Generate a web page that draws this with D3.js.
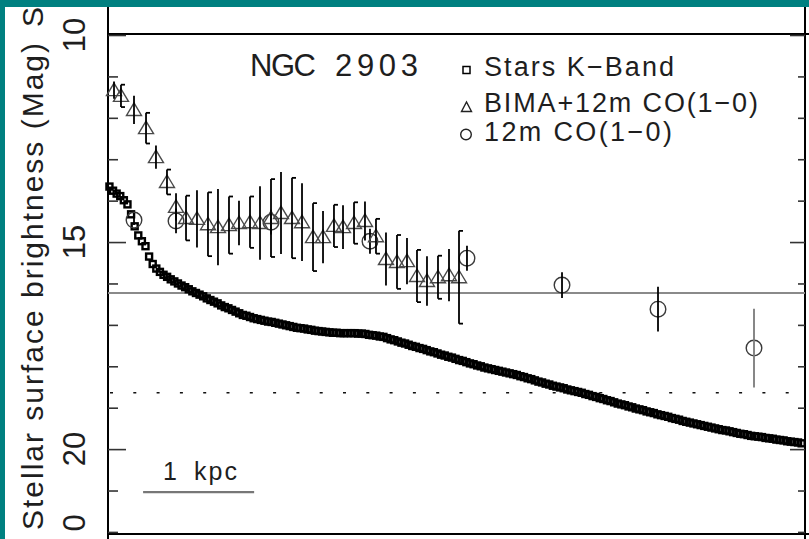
<!DOCTYPE html>
<html><head><meta charset="utf-8">
<script src="https://cdn.jsdelivr.net/npm/d3@7"></script>
<style>
html,body{margin:0;padding:0;background:#fff;}
svg{display:block;}
text{font-family:"Liberation Sans",Arial,sans-serif;fill:#1e1e1e;}
</style></head><body>
<svg id="c" width="809" height="539"></svg>
<script>
// ---- data (radius in arcsec, surface brightness in mag) ----
const starR = [
0.30,1.05,1.80,2.55,3.30,4.05,4.80,5.55,6.30,7.05,
7.80,8.55,9.30,10.05,10.80,11.55,12.30,13.05,13.80,14.55,
15.30,16.05,16.80,17.55,18.30,19.05,19.80,20.55,21.30,22.05,
22.80,23.55,24.30,25.05,25.80,26.55,27.30,28.05,28.80,29.55,
30.30,31.05,31.80,32.55,33.30,34.05,34.80,35.55,36.30,37.05,
37.80,38.55,39.30,40.05,40.80,41.55,42.30,43.05,43.80,44.55,
45.30,46.05,46.80,47.55,48.30,49.05,49.80,50.55,51.30,52.05,
52.80,53.55,54.30,55.05,55.80,56.55,57.30,58.05,58.80,59.55,
60.30,61.05,61.80,62.55,63.30,64.05,64.80,65.55,66.30,67.05,
67.80,68.55,69.30,70.05,70.80,71.55,72.30,73.05,73.80,74.55,
75.30,76.05,76.80,77.55,78.30,79.05,79.80,80.55,81.30,82.05,
82.80,83.55,84.30,85.05,85.80,86.55,87.30,88.05,88.80,89.55,
90.30,91.05,91.80,92.55,93.30,94.05,94.80,95.55,96.30,97.05,
97.80,98.55,99.30,100.05,100.80,101.55,102.30,103.05,103.80,104.55,
105.30,106.05,106.80,107.55,108.30,109.05,109.80,110.55,111.30,112.05,
112.80,113.55,114.30,115.05,115.80,116.55,117.30,118.05,118.80,119.55,
120.30,121.05,121.80,122.55,123.30,124.05,124.80,125.55,126.30,127.05,
127.80,128.55,129.30,130.05,130.80,131.55,132.30,133.05,133.80,134.55,
135.30,136.05,136.80,137.55,138.30,139.05,139.80,140.55,141.30,142.05,
142.80,143.55,144.30];
const starMag = [
13.66,13.76,13.83,13.89,13.99,14.09,14.33,14.62,14.84,14.98,
15.10,15.35,15.53,15.64,15.72,15.79,15.84,15.90,15.95,16.00,
16.05,16.09,16.14,16.19,16.23,16.27,16.31,16.36,16.40,16.44,
16.48,16.53,16.57,16.60,16.64,16.68,16.72,16.76,16.78,16.81,
16.84,16.86,16.88,16.90,16.92,16.93,16.95,16.97,16.99,17.01,
17.03,17.05,17.07,17.08,17.09,17.11,17.12,17.14,17.15,17.16,
17.17,17.18,17.19,17.19,17.20,17.20,17.20,17.20,17.20,17.21,
17.21,17.22,17.24,17.25,17.26,17.28,17.29,17.32,17.35,17.37,
17.40,17.43,17.45,17.48,17.51,17.53,17.56,17.58,17.61,17.64,
17.66,17.69,17.72,17.74,17.77,17.79,17.82,17.85,17.87,17.90,
17.93,17.95,17.98,18.00,18.03,18.05,18.07,18.09,18.11,18.13,
18.15,18.17,18.19,18.21,18.24,18.26,18.29,18.31,18.34,18.37,
18.39,18.42,18.44,18.47,18.49,18.51,18.53,18.56,18.58,18.60,
18.62,18.64,18.67,18.69,18.72,18.74,18.77,18.79,18.82,18.84,
18.87,18.90,18.92,18.94,18.97,18.99,19.02,19.04,19.06,19.09,
19.11,19.13,19.16,19.18,19.20,19.22,19.25,19.27,19.29,19.32,
19.34,19.36,19.38,19.40,19.42,19.44,19.46,19.48,19.50,19.52,
19.54,19.55,19.57,19.59,19.61,19.63,19.64,19.66,19.68,19.69,
19.70,19.71,19.73,19.74,19.75,19.77,19.78,19.79,19.81,19.82,
19.83,19.84,19.86];

const bimaR   = [1.25,2.70,5.41,7.91,9.98,12.27,14.15,16.23,18.51,20.80,22.88,25.17,27.25,29.54,31.62,33.91,35.99,38.28,40.36,42.65,44.73,47.01,48.89,51.18,53.46,55.75,57.83,60.12,62.20,64.28,66.36,68.65,70.94,73.02];
const bimaMag = [11.33,11.47,11.81,12.25,12.95,13.55,14.15,14.42,14.44,14.57,14.64,14.59,14.54,14.52,14.54,14.42,14.30,14.42,14.52,14.88,14.88,14.61,14.64,14.54,14.49,14.86,15.41,15.48,15.46,15.82,15.94,15.85,15.80,15.85];
const bimaErr = [0.21,0.27,0.34,0.37,0.28,0.30,0.33,0.54,0.69,0.77,0.92,0.69,0.54,0.62,0.89,0.94,0.99,0.97,0.94,0.82,0.63,0.51,0.53,0.50,0.47,0.42,0.64,0.65,0.56,0.63,0.60,0.52,0.63,1.12];

const co12R   = [5.41,14.15,33.91,54.50,74.68,94.45,114.42,134.39];
const co12Mag = [14.47,14.49,14.52,14.98,15.39,16.04,16.62,17.56];
const co12Err = [0.12,0.30,0.30,0.30,0.30,0.31,0.54,0.95];

const yTickValues  = [10,15,20];
const yTickLabels  = ["10","15","20"];
const yMinorValues = [11,12,13,14,16,17,18,19,21,22];
const cutLabel = {text:"0", value:21.78};
const refSolidMag = 16.23;
const refDottedMag = 18.64;
const scaleBarR = [7.3,30.4];
const scaleBarMag = 21.04;
const scaleBarLabel = "1 kpc";
const titleText = "NGC 2903";
const legendLabels = ["Stars K\u2212Band","BIMA+12m CO(1\u22120)","12m CO(1\u22120)"];
const yTitle = "Stellar surface brightness (Mag)";
const yTitleCut = "S";

// ---- drawing ----
const W = 809, H = 539;
const svg = d3.select("#c");
const x = d3.scaleLinear().domain([0,145]).range([108,805]);
const y = d3.scaleLinear().domain([10,22.05]).range([35,534]);

// frame lines
const frame = svg.append("g").attr("stroke","#000").attr("stroke-width",2);
frame.append("line").attr("x1",x(0)).attr("x2",x(0)).attr("y1",0).attr("y2",H);
frame.append("line").attr("x1",x(145)).attr("x2",x(145)).attr("y1",0).attr("y2",H);
frame.append("line").attr("x1",x(0)).attr("x2",W).attr("y1",y(10)-1).attr("y2",y(10)-1);
frame.append("line").attr("x1",x(0)).attr("x2",W).attr("y1",y.range()[1]).attr("y2",y.range()[1]);

// ticks via d3 axes (inward)
function tickAxis(axis, tx){
  const g = svg.append("g").attr("transform",`translate(${tx},0)`).call(axis);
  g.select(".domain").remove();
  g.selectAll(".tick line").attr("stroke","#333").attr("stroke-width",1.6);
  g.selectAll(".tick text").remove();
  return g;
}
tickAxis(d3.axisLeft(y).tickValues(yTickValues).tickSize(-18).tickFormat(""), x(0));
tickAxis(d3.axisLeft(y).tickValues(yMinorValues).tickSize(-10).tickFormat(""), x(0));
tickAxis(d3.axisRight(y).tickValues(yTickValues).tickSize(-15).tickFormat(""), x(145));
tickAxis(d3.axisRight(y).tickValues(yMinorValues).tickSize(-7).tickFormat(""), x(145));

// y tick labels (rotated)
yTickValues.forEach((v,i)=>{
  svg.append("text").attr("transform",`translate(85,${y(v)}) rotate(-90)`)
    .attr("text-anchor","middle").attr("font-size",31).text(yTickLabels[i]);
});
svg.append("text").attr("transform",`translate(85,${y(cutLabel.value)}) rotate(-90)`)
  .attr("text-anchor","middle").attr("font-size",31).text(cutLabel.text);

// y title
svg.append("text").attr("transform","translate(43,530) rotate(-90)")
  .attr("font-size",30).attr("textLength",487).attr("lengthAdjust","spacing").text(yTitle);
svg.append("text").attr("transform","translate(43,27) rotate(-90)")
  .attr("font-size",30).text(yTitleCut);

// reference lines
svg.append("line").attr("x1",x(0)).attr("x2",x(145)).attr("y1",y(refSolidMag)).attr("y2",y(refSolidMag))
  .attr("stroke","#8a8a8a").attr("stroke-width",2.2);
svg.append("line").attr("x1",x(0)+2).attr("x2",x(145)).attr("y1",y(refDottedMag)).attr("y2",y(refDottedMag))
  .attr("stroke","#111").attr("stroke-width",1.6).attr("stroke-dasharray","3 20.3");

// scale bar
svg.append("line").attr("x1",x(scaleBarR[0])).attr("x2",x(scaleBarR[1])).attr("y1",y(scaleBarMag)).attr("y2",y(scaleBarMag))
  .attr("stroke","#777").attr("stroke-width",2.2);
const sbw = scaleBarLabel.split(" ");
svg.append("text").attr("x",163).attr("y",y(scaleBarMag)-12).attr("font-size",25).text(sbw[0]);
svg.append("text").attr("x",194).attr("y",y(scaleBarMag)-12).attr("font-size",25)
  .attr("textLength",43).attr("lengthAdjust","spacing").text(sbw[1]);

// stars (small hollow squares)
const s = 6;
svg.append("g").selectAll("rect").data(starR.map((r,i)=>[r,starMag[i]])).join("rect")
  .attr("x",d=>x(d[0])-s/2).attr("y",d=>y(d[1])-s/2).attr("width",s).attr("height",s)
  .attr("fill","none").attr("stroke","#000").attr("stroke-width",2.4);

// 12m CO circles + error bars
const co = co12R.map((r,i)=>({r,m:co12Mag[i],e:co12Err[i]}));
svg.append("g").selectAll("circle").data(co).join("circle")
  .attr("cx",d=>x(d.r)).attr("cy",d=>y(d.m)).attr("r",7.8)
  .attr("fill","none").attr("stroke","#3a3a3a").attr("stroke-width",1.4);
svg.append("g").selectAll("line").data(co).join("line")
  .attr("x1",d=>x(d.r)).attr("x2",d=>x(d.r)).attr("y1",d=>y(d.m-d.e)).attr("y2",d=>y(d.m+d.e))
  .attr("stroke",(d,i)=>i===co.length-1?"#7a7a7a":"#000").attr("stroke-width",1.8);

// BIMA triangles + error bars
const bm = bimaR.map((r,i)=>({r,m:bimaMag[i],e:bimaErr[i],i}));
svg.append("g").selectAll("path").data(bm).join("path")
  .attr("d",d=>{const cx=x(d.r), cy=y(d.m); return `M${cx-7.5},${cy+5.5}L${cx+7.5},${cy+5.5}L${cx},${cy-7}Z`;})
  .attr("fill","none").attr("stroke","#4a4a4a").attr("stroke-width",1.4);
const eb = svg.append("g").attr("stroke","#000").attr("stroke-width",1.8);
bm.forEach(d=>{
  const cx=x(d.r), y1=y(d.m-d.e), y2=y(d.m+d.e);
  eb.append("line").attr("x1",cx).attr("x2",cx).attr("y1",y1).attr("y2",y2);
  if(d.i%2===1){
    eb.append("line").attr("x1",cx).attr("x2",cx+4).attr("y1",y1).attr("y2",y1);
    eb.append("line").attr("x1",cx).attr("x2",cx+4).attr("y1",y2).attr("y2",y2);
  }
});

// title
const tw = titleText.split(" ");
svg.append("text").attr("x",250).attr("y",76).attr("font-size",31).attr("textLength",66).attr("lengthAdjust","spacing").text(tw[0]);
svg.append("text").attr("x",335).attr("y",76).attr("font-size",31).attr("textLength",83).attr("lengthAdjust","spacing").text(tw[1]);

// legend
const legY = [76,112,141], legLen = [190,274,188];
legendLabels.forEach((t,i)=>{
  svg.append("text").attr("x",484).attr("y",legY[i]).attr("font-size",27)
    .attr("textLength",legLen[i]).attr("lengthAdjust","spacing").text(t);
});
svg.append("rect").attr("x",463).attr("y",66.5).attr("width",7).attr("height",7)
  .attr("fill","none").attr("stroke","#000").attr("stroke-width",1.5);
svg.append("path").attr("d","M461.5,111.5L471.5,111.5L466.5,102Z")
  .attr("fill","none").attr("stroke","#222").attr("stroke-width",1.4);
svg.append("circle").attr("cx",466).attr("cy",134.5).attr("r",5.3)
  .attr("fill","none").attr("stroke","#222").attr("stroke-width",1.4);

// teal page border (top and left)
svg.append("rect").attr("x",0).attr("y",0).attr("width",W).attr("height",7).attr("fill","#008080");
svg.append("rect").attr("x",0).attr("y",0).attr("width",5).attr("height",H).attr("fill","#008080");
</script>
</body></html>
